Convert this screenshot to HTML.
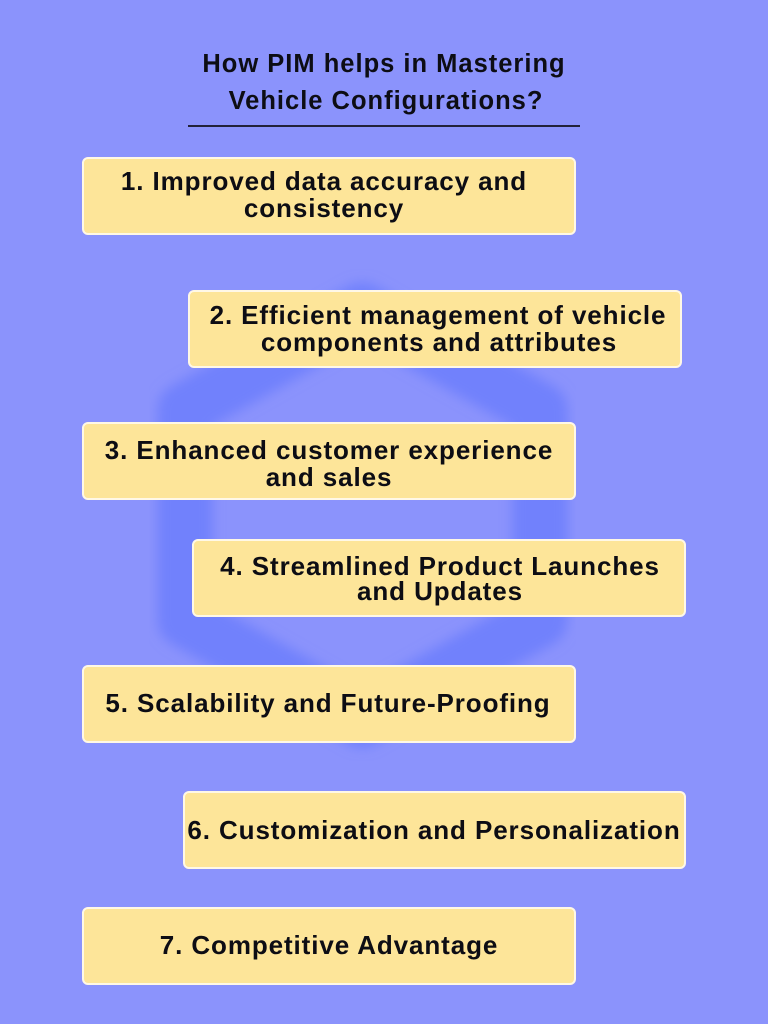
<!DOCTYPE html>
<html><head><meta charset="utf-8"><style>
html,body{margin:0;padding:0}
body{width:768px;height:1024px;background:#8b93fc;position:relative;overflow:hidden;font-family:"Liberation Sans",sans-serif;font-weight:bold;color:#0d0d14}
.box{position:absolute;background:#fde599;border:2.5px solid #fff8e6;border-radius:6px;box-sizing:border-box;width:494px;height:78px}
.t{position:absolute;white-space:nowrap;text-align:center;font-size:26px;line-height:28px;letter-spacing:0.9px}
.h{position:absolute;white-space:nowrap;text-align:center;font-size:25.5px;line-height:28px;letter-spacing:1px}
</style></head><body>
<svg width="768" height="1024" style="position:absolute;left:0;top:0">
<defs><filter id="b"><feGaussianBlur stdDeviation="6"/></filter></defs>
<polygon points="362,310 540,410 540,620 362,720 185,620 185,410" fill="none" stroke="#7181fc" stroke-width="55" stroke-linejoin="round" filter="url(#b)"/>
</svg>
<div class="h" style="left:159px;width:450px;top:50px">How PIM helps in Mastering</div>
<div class="h" style="left:161px;width:450px;top:87px">Vehicle Configurations?</div>
<div style="position:absolute;left:188px;top:125px;width:392px;height:2px;background:#22223a"></div>

<div class="box" style="left:82px;top:157px"></div>
<div class="box" style="left:188px;top:290px"></div>
<div class="box" style="left:82px;top:422px"></div>
<div class="box" style="left:192px;top:539px"></div>
<div class="box" style="left:82px;top:665px"></div>
<div class="box" style="left:183px;top:791px;width:503px"></div>
<div class="box" style="left:82px;top:907px"></div>

<div class="t" style="left:74px;width:500px;top:167px">1. Improved data accuracy and</div>
<div class="t" style="left:74px;width:500px;top:194px">consistency</div>
<div class="t" style="left:188px;width:500px;top:301px">2. Efficient management of vehicle</div>
<div class="t" style="left:189px;width:500px;top:328px">components and attributes</div>
<div class="t" style="left:79px;width:500px;top:436px">3. Enhanced customer experience</div>
<div class="t" style="left:79px;width:500px;top:463px">and sales</div>
<div class="t" style="left:190px;width:500px;top:552px">4. Streamlined Product Launches</div>
<div class="t" style="left:190px;width:500px;top:577px">and Updates</div>
<div class="t" style="left:78px;width:500px;top:689px">5. Scalability and Future-Proofing</div>
<div class="t" style="left:184px;width:500px;top:816px">6. Customization and Personalization</div>
<div class="t" style="left:79px;width:500px;top:931px">7. Competitive Advantage</div>
</body></html>
